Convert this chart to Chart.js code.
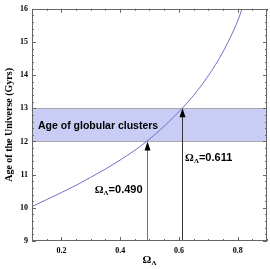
<!DOCTYPE html>
<html>
<head>
<meta charset="utf-8">
<script src="https://cdn.jsdelivr.net/npm/chart.js@4/dist/chart.umd.min.js"></script>
<style>
html, body { margin: 0; padding: 0; background: #fff; }
#wrap { width: 270px; height: 269px; }
</style>
</head>
<body>
<div id="wrap"><canvas id="ageChart"></canvas></div>
<script>
// values
const omegaLambda = [0.10, 0.15, 0.20, 0.25, 0.30, 0.35, 0.40, 0.45, 0.49, 0.55, 0.611, 0.65, 0.70, 0.75, 0.80, 0.815];
const ageGyr = [10.04, 10.25, 10.46, 10.68, 10.92, 11.17, 11.44, 11.735, 12.0, 12.46, 13.0, 13.39, 13.98, 14.7, 15.63, 16.0];
const xTicks = [0.2, 0.4, 0.6, 0.8];
const yTicks = [9, 10, 11, 12, 13, 14, 15, 16];
const clusterBand = [12, 13];
const bandLabel = "Age of globular clusters";
const markOmega = [0.490, 0.611];
const markAge = [12, 13];
const markText = ["=0.490", "=0.611"];

const serif = "'Liberation Serif', 'DejaVu Serif', serif";
const sans = "'Liberation Sans', Arial, sans-serif";

// Ω with a subscript Λ, then the rest in sans
function omegaText(ctx, x, y, rest, size, draw) {
    let w = 0;
    ctx.textBaseline = "middle";
    ctx.textAlign = "left";
    ctx.font = "bold " + size + "px " + serif;
    if (draw) ctx.fillText("Ω", x, y);
    w += ctx.measureText("Ω").width;
    ctx.font = "bold " + Math.round(size * 0.65) + "px " + serif;
    if (draw) ctx.fillText("Λ", x + w, y + size * 0.3);
    w += ctx.measureText("Λ").width;
    ctx.font = "bold " + size + "px " + sans;
    if (draw) ctx.fillText(rest, x + w, y);
    return w + ctx.measureText(rest).width;
}

const bandPlugin = {
    id: "band",
    beforeDatasetsDraw(chart) {
        const ctx = chart.ctx, a = chart.chartArea;
        const y = chart.scales.y;
        const top = y.getPixelForValue(clusterBand[1]);
        const bot = y.getPixelForValue(clusterBand[0]);
        ctx.save();
        ctx.fillStyle = "#c9ccf5";
        ctx.fillRect(a.left, top, a.right - a.left, bot - top);
        ctx.strokeStyle = "#a8a8a8";
        ctx.lineWidth = 1;
        ctx.beginPath();
        ctx.moveTo(a.left, Math.round(top) + 0.5); ctx.lineTo(a.right, Math.round(top) + 0.5);
        ctx.moveTo(a.left, Math.round(bot) + 0.5); ctx.lineTo(a.right, Math.round(bot) + 0.5);
        ctx.stroke();
        ctx.fillStyle = "#000";
        ctx.font = "bold 10.5px " + sans;
        ctx.textBaseline = "middle";
        ctx.fillText(bandLabel, a.left + 6, (top + bot) / 2 + 1);
        ctx.restore();
    },
    afterDatasetsDraw(chart) {
        const ctx = chart.ctx, a = chart.chartArea;
        const x = chart.scales.x, y = chart.scales.y;
        ctx.save();
        // arrows up to the curve
        const lineCols = ["#777", "#333"];
        markOmega.forEach((v, i) => {
            const px = Math.round(x.getPixelForValue(v)) + 0.5;
            const tip = y.getPixelForValue(markAge[i]);
            ctx.strokeStyle = lineCols[i];
            ctx.lineWidth = 1;
            ctx.beginPath();
            ctx.moveTo(px, a.bottom);
            ctx.lineTo(px, tip + 6);
            ctx.stroke();
            ctx.fillStyle = "#000";
            ctx.beginPath();
            ctx.moveTo(px, tip);
            ctx.lineTo(px - 3, tip + 9);
            ctx.lineTo(px + 3, tip + 9);
            ctx.closePath();
            ctx.fill();
        });
        // labels next to the arrows
        ctx.fillStyle = "#000";
        const p0 = x.getPixelForValue(markOmega[0]);
        const w0 = omegaText(ctx, 0, 0, markText[0], 11, false);
        omegaText(ctx, p0 - 4 - w0, y.getPixelForValue(10.53), markText[0], 11, true);
        const p1 = x.getPixelForValue(markOmega[1]);
        omegaText(ctx, p1 + 3, y.getPixelForValue(11.5), markText[1], 11, true);

        // frame with inward ticks
        ctx.strokeStyle = "#666";
        ctx.lineWidth = 1;
        ctx.strokeRect(Math.round(a.left) + 0.5, Math.round(a.top) + 0.5,
            Math.round(a.right - a.left) - 1, Math.round(a.bottom - a.top) - 1);
        ctx.beginPath();
        for (let t = 0.1; t <= 0.9001; t += 0.05) {
            const px = Math.round(x.getPixelForValue(t)) + 0.5;
            const major = xTicks.some(k => Math.abs(k - t) < 1e-6);
            const len = major ? 4 : 2;
            ctx.moveTo(px, a.bottom); ctx.lineTo(px, a.bottom - len);
            ctx.moveTo(px, a.top); ctx.lineTo(px, a.top + len);
        }
        for (let t = 9; t <= 16.001; t += 0.2) {
            const py = Math.round(y.getPixelForValue(t)) + 0.5;
            const major = Math.abs(t - Math.round(t)) < 1e-6;
            const len = major ? 4 : 2;
            ctx.moveTo(a.left, py); ctx.lineTo(a.left + len, py);
            ctx.moveTo(a.right, py); ctx.lineTo(a.right - len, py);
        }
        ctx.stroke();

        // x axis title
        ctx.fillStyle = "#000";
        const wt = omegaText(ctx, 0, 0, "", 11, false);
        omegaText(ctx, (a.left + a.right) / 2 - wt / 2, 260, "", 11, true);
        ctx.restore();
    }
};

document.addEventListener("DOMContentLoaded", function () {
    const ctx = document.getElementById("ageChart").getContext("2d");
    new Chart(ctx, {
        type: "line",
        data: {
            datasets: [{
                data: omegaLambda.map((v, i) => ({ x: v, y: ageGyr[i] })),
                borderColor: "#6f6fc9",
                borderWidth: 1,
                pointRadius: 0,
                cubicInterpolationMode: "monotone",
                fill: false
            }]
        },
        options: {
            responsive: true,
            maintainAspectRatio: false,
            animation: false,
            events: [],
            layout: { padding: { left: 3, right: 3, top: 6, bottom: 0 } },
            plugins: { legend: { display: false }, tooltip: { enabled: false } },
            scales: {
                x: {
                    type: "linear",
                    min: 0.1,
                    max: 0.9,
                    afterBuildTicks: s => { s.ticks = xTicks.map(v => ({ value: v })); },
                    afterFit: s => { s.height = 28; },
                    grid: { display: false, drawTicks: false },
                    border: { display: false },
                    ticks: {
                        padding: 5,
                        color: "#000",
                        font: { family: serif, size: 8, weight: "bold" },
                        callback: v => v.toFixed(1)
                    }
                },
                y: {
                    min: 9,
                    max: 16,
                    afterBuildTicks: s => { s.ticks = yTicks.map(v => ({ value: v })); },
                    afterFit: s => { s.width = 29; },
                    grid: { display: false, drawTicks: false },
                    border: { display: false },
                    title: {
                        display: true,
                        text: "Age of the Universe (Gyrs)",
                        color: "#000",
                        font: { family: serif, size: 10, weight: "bold" },
                        padding: { top: 0, bottom: 0 }
                    },
                    ticks: {
                        padding: 4,
                        color: "#000",
                        font: { family: serif, size: 8, weight: "bold" }
                    }
                }
            }
        },
        plugins: [bandPlugin]
    });
});
</script>
</body>
</html>
